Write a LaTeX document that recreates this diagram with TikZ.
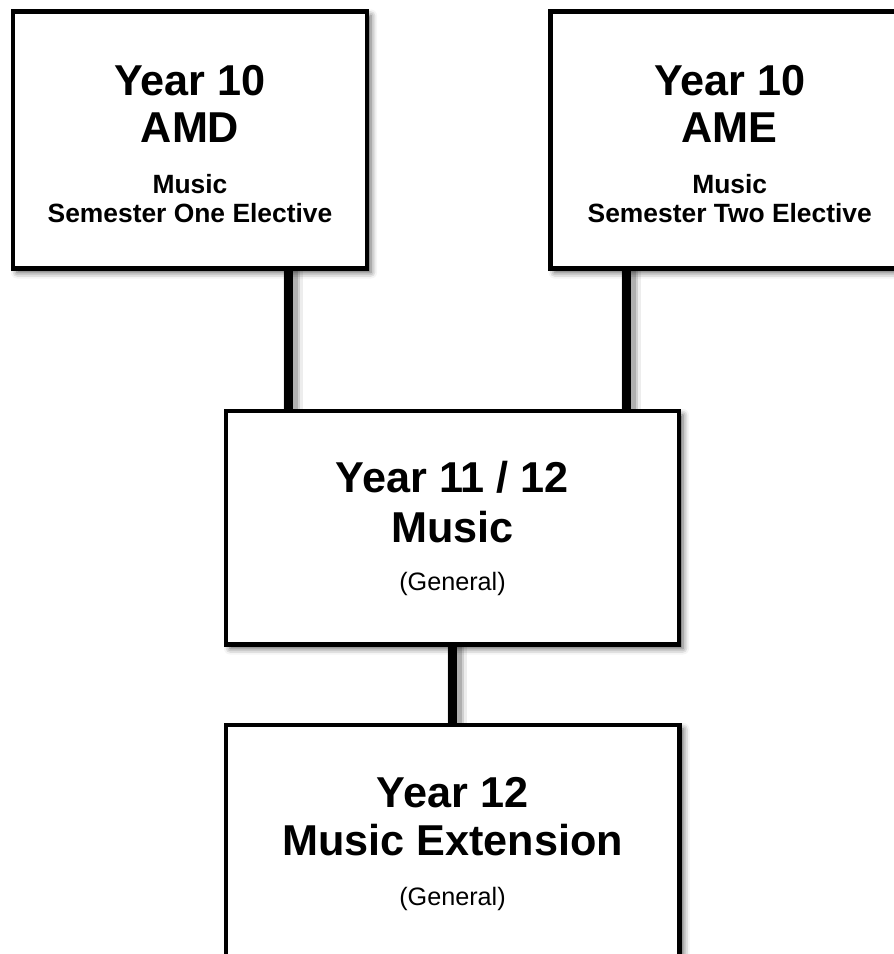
\documentclass[tikz,border=0pt]{standalone}
\usepackage{fontspec}
\setmainfont{Liberation Sans}
\usetikzlibrary{shadows.blur}

\begin{document}
\begin{tikzpicture}[x=1pt, y=1pt,
  box/.style={draw=black, line width=4.5pt, fill=white, rectangle,
    inner sep=0pt, outer sep=0pt,
    blur shadow={shadow xshift=4pt, shadow yshift=-4pt,
                 shadow blur radius=6pt, shadow opacity=65}},
  conn/.style={draw=black, line width=9pt,
    preaction={draw=black, opacity=0.07, line width=20pt,
               transform canvas={xshift=4pt, yshift=-2pt}},
    preaction={draw=black, opacity=0.12, line width=15pt,
               transform canvas={xshift=4pt, yshift=-2pt}},
    preaction={draw=black, opacity=0.16, line width=11pt,
               transform canvas={xshift=4pt, yshift=-2pt}}},
  title/.style={anchor=base, inner sep=0pt, font=\bfseries\fontsize{43.2}{47}\selectfont},
  subbold/.style={anchor=base, inner sep=0pt, font=\bfseries\fontsize{26.4}{29}\selectfont},
  subplain/.style={anchor=base, inner sep=0pt, font=\fontsize{25.2}{29}\selectfont}]

  \useasboundingbox (0,0) rectangle (894,-954);
  \clip (0,0) rectangle (894,-954);

  % course boxes
  \node[box, minimum width=354pt, minimum height=257pt] (b1) at (190,-140) {};
  \node[box, minimum width=358.5pt, minimum height=257pt] (b2) at (729.75,-140) {};
  \node[box, minimum width=453pt, minimum height=233.5pt] (b3) at (452.5,-527.75) {};
  \node[box, minimum width=453.5pt, minimum height=275pt] (b4) at (452.75,-862.5) {};

  % pathway links
  \draw[conn] (b1.south -| 288.5,0) -- (b3.north -| 288.5,0);
  \draw[conn] (b2.south -| 626.5,0) -- (b3.north -| 626.5,0);
  \draw[conn] (b3.south -| 452.5,0) -- (b4.north -| 452.5,0);

  % Year 10 semester one
  \node[title]   (t1a) at (190,-95)  {Year 10};
  \node[title]   (t1b) at (190,-142) {AMD};
  \node[subbold] (t1c) at (190,-193.5) {Music};
  \node[subbold] (t1d) at (190,-222) {Semester One Elective};

  % Year 10 semester two
  \node[title]   (t2a) at (729.75,-95)  {Year 10};
  \node[title]   (t2b) at (729.75,-142) {AME};
  \node[subbold] (t2c) at (729.75,-193.5) {Music};
  \node[subbold] (t2d) at (729.75,-222) {Semester Two Elective};

  % Year 11/12
  \node[title]    (t3a) at (452.5,-492) {Year 11 / 12};
  \node[title]    (t3b) at (452.5,-542) {Music};
  \node[subplain] (t3c) at (452.5,-590) {(General)};

  % Year 12 extension
  \node[title]    (t4a) at (452.5,-807) {Year 12};
  \node[title]    (t4b) at (452.5,-855) {Music Extension};
  \node[subplain] (t4c) at (452.5,-905) {(General)};
\end{tikzpicture}
\end{document}
